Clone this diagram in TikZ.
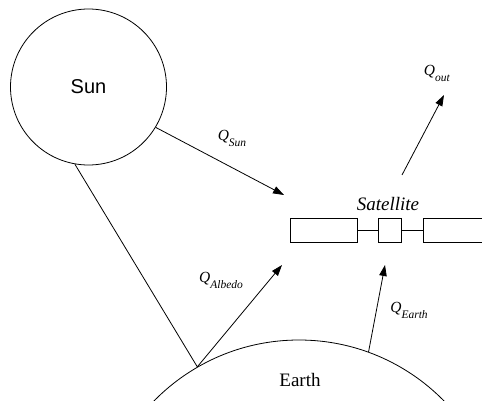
\documentclass[tikz,border=0pt]{standalone}
\usepackage{fontspec}
\setmainfont{Liberation Serif}
\newfontfamily\arialfont{Liberation Sans}
\usetikzlibrary{arrows.meta}
\newcommand{\heatflow}[1]{\textit{Q}\raisebox{-6pt}{\fontsize{11.5}{11.5}\selectfont\textit{#1}}}

\begin{document}
\begin{tikzpicture}[x=1pt, y=1pt, line width=0.8pt,
    body/.style={draw, circle, inner sep=0pt},
    panel/.style={draw, rectangle, minimum height=24pt, inner sep=0pt},
    flow/.style={-{Triangle[length=11pt,width=7.5pt]}},
    qlabel/.style={font=\fontsize{15.5}{15.5}\selectfont}]
    \useasboundingbox (0,0) rectangle (482,400);
    \clip (0,0) rectangle (482,400);

    \node[body, minimum size=156pt, font=\arialfont\fontsize{20}{20}\selectfont] (sun) at (88.5,313) {Sun};
    \node[body, minimum size=406pt] (earth) at (299,-143) {};
    \node[font=\fontsize{19}{19}\selectfont] (earthtxt) at (300,20) {Earth};

    % satellite
    \node[panel, minimum width=67pt] (panelL) at (323.5,170) {};
    \node[panel, minimum width=23pt] (bus) at (389.5,170) {};
    \node[panel, minimum width=69pt] (panelR) at (457.5,170) {};
    \draw (panelL) -- (bus) -- (panelR);
    \node[font=\itshape\fontsize{19}{19}\selectfont] (sattxt) at (388,196) {Satellite};

    \coordinate (sunTip) at (284,205);
    \coordinate (albedoTip) at (282,135);
    \coordinate (earthTip) at (385,135);
    \coordinate (outBase) at (402,225);
    \coordinate (outTip) at (444,305);

    \draw (sun.260) -- (earth.120);
    \draw[flow] (sun.-31) -- (sunTip);
    \draw[flow] (earth.120) -- (albedoTip);
    \draw[flow] (earth.70) -- (earthTip);
    \draw[flow] (outBase) -- (outTip);

    \node[qlabel] (qsun) at (232,262) {\heatflow{Sun}};
    \node[qlabel] (qalbedo) at (221,120) {\heatflow{Albedo}};
    \node[qlabel] (qearth) at (409,90) {\heatflow{Earth}};
    \node[qlabel] (qout) at (437,327) {\heatflow{out}};
\end{tikzpicture}
\end{document}
